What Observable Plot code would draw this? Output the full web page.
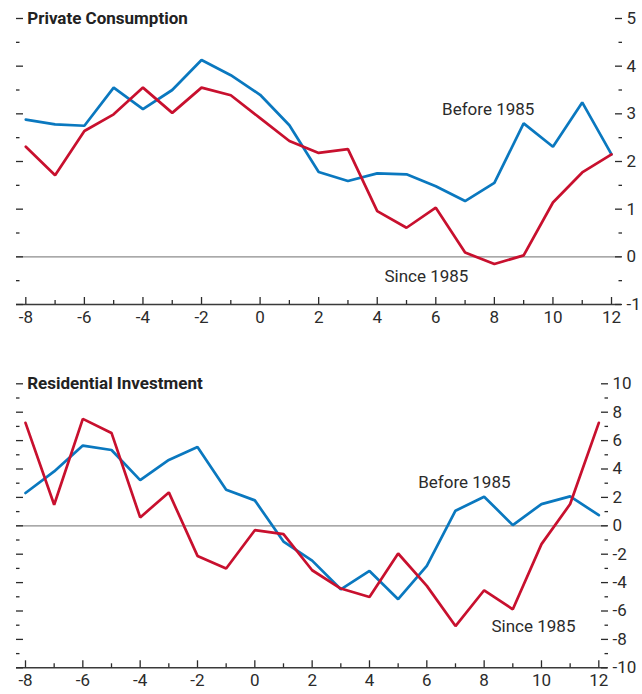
<!DOCTYPE html>
<html><head><meta charset="utf-8">
<script src="https://cdn.jsdelivr.net/npm/d3@7"></script>
<script src="https://cdn.jsdelivr.net/npm/@observablehq/plot@0.6"></script>
<style>
body{margin:0;background:#fff;}
#chart{position:relative;width:642px;height:694px;overflow:hidden;}
#chart svg{position:absolute;left:0;}
</style></head><body><div id="chart"></div>
<script>
// Quarters relative to the event
const quarters = d3.range(-8, 13);
const seriesNames = ["Before 1985", "Since 1985"];
const panelTitles = ["Private Consumption", "Residential Investment"];

// Private consumption
const consBefore = [2.88,2.78,2.75,3.55,3.10,3.50,4.13,3.81,3.40,2.76,1.78,1.59,1.75,1.73,1.48,1.17,1.55,2.80,2.31,3.24,2.15];
const consSince  = [2.31,1.71,2.64,2.99,3.55,3.02,3.55,3.39,2.91,2.43,2.18,2.26,0.96,0.61,1.03,0.09,-0.15,0.03,1.14,1.77,2.15];
// Residential investment
const resBefore = [2.31,3.83,5.65,5.34,3.22,4.64,5.55,2.54,1.79,-1.11,-2.45,-4.47,-3.18,-5.17,-2.82,1.06,2.05,0.05,1.53,2.07,0.75];
const resSince  = [7.25,1.48,7.53,6.54,0.59,2.35,-2.12,-3.01,-0.31,-0.59,-3.13,-4.42,-5.01,-1.95,-4.23,-7.06,-4.54,-5.88,-1.29,1.53,7.25];

// Tick values
const xMajor = [-8,-6,-4,-2,0,2,4,6,8,10,12];
const xMinor = [-7,-5,-3,-1,1,3,5,7,9,11];
const consMajor = [-1,0,1,2,3,4,5];
const consMinor = [-0.5,0.5,1.5,2.5,3.5,4.5];
const resMajor = [-10,-8,-6,-4,-2,0,2,4,6,8,10];
const resMinor = [-9,-7,-5,-3,-1,1,3,5,7,9];

// Series label positions (quarter, value)
const consLabels = [{t:7.79, v:3.08, s:"Before 1985"}, {t:5.68, v:-0.42, s:"Since 1985"}];
const resLabels  = [{t:7.31, v:3.06, s:"Before 1985"}, {t:9.72, v:-7.13, s:"Since 1985"}];

const BLUE = "#0a78bf", RED = "#c8102e", INK = "#2b2b2b";
const FONT = 'Roboto,"Liberation Sans",sans-serif';
const FS = 17;

function rows(a, b) {
  return quarters.flatMap((q, i) => [
    {q, v: a[i], s: seriesNames[0]},
    {q, v: b[i], s: seriesNames[1]}
  ]);
}

function panel({title, a, b, major, minor, labels, yDomain, xDomain, height, mt, mb, mr}) {
  const data = rows(a, b);
  const tk = {label: null, tickFormat: () => "", stroke: INK, strokeWidth: 1.3};
  return Plot.plot({
    width: 642, height,
    marginTop: mt, marginBottom: mb, marginLeft: 16, marginRight: mr,
    style: {fontFamily: FONT, fontSize: FS + "px", background: "transparent", color: INK},
    x: {domain: xDomain},
    y: {domain: yDomain},
    marks: [
      Plot.ruleY([0], {stroke: "#8c8c8c", strokeWidth: 1.3}),
      Plot.ruleY([yDomain[0]], {stroke: "#3a3a3a", strokeWidth: 1.6}),
      Plot.axisY({...tk, anchor: "left", ticks: major, tickSize: 7, dx: 7}),
      Plot.axisY({...tk, anchor: "left", ticks: minor, tickSize: 3.5, dx: 3.5}),
      Plot.axisY({...tk, anchor: "right", ticks: major, tickSize: 7, dx: -7}),
      Plot.axisY({...tk, anchor: "right", ticks: minor, tickSize: 3.5, dx: -3.5}),
      Plot.axisY({label: null, anchor: "right", ticks: major, tickSize: 0, tickPadding: 5, tickFormat: d => String(d), fontSize: FS, fill: INK, textAnchor: "start"}),
      Plot.axisX({...tk, anchor: "bottom", ticks: xMajor, tickSize: 7, dy: -7}),
      Plot.axisX({...tk, anchor: "bottom", ticks: xMinor, tickSize: 4, dy: -4}),
      Plot.axisX({label: null, anchor: "bottom", ticks: xMajor, tickSize: 0, tickPadding: 6, tickFormat: d => String(d), fontSize: FS, fill: INK}),
      Plot.line(data, {x: "q", y: "v", z: "s", stroke: d => d.s === seriesNames[0] ? BLUE : RED, strokeWidth: 2.7, strokeLinejoin: "miter"}),
      Plot.text(labels, {x: "t", y: "v", text: "s", fontSize: FS, fill: INK, textAnchor: "middle", lineAnchor: "middle"}),
      Plot.text([title], {frameAnchor: "top-left", dx: 10.7, dy: 0, textAnchor: "start", lineAnchor: "middle", fontWeight: "bold", fontSize: FS, fill: "#222"})
    ]
  });
}

const topPanel = panel({
  title: panelTitles[0], a: consBefore, b: consSince, major: consMajor, minor: consMinor,
  labels: consLabels, yDomain: [-1, 5], xDomain: [-8.318, 12.341],
  height: 330, mt: 18, mb: 26, mr: 21
});
const bottomPanel = panel({
  title: panelTitles[1], a: resBefore, b: resSince, major: resMajor, minor: resMinor,
  labels: resLabels, yDomain: [-10, 10], xDomain: [-8.314, 12.303],
  height: 364, mt: 53.3, mb: 26.7, mr: 35
});
topPanel.style.top = "0px";
bottomPanel.style.top = "330px";
document.getElementById("chart").append(topPanel, bottomPanel);
</script>
</body></html>
